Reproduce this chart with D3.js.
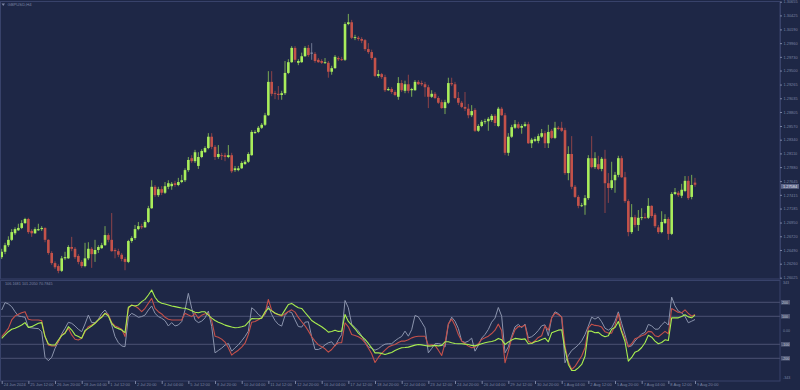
<!DOCTYPE html>
<html><head><meta charset="utf-8">
<script src="https://cdn.jsdelivr.net/npm/d3@7"></script>
<style>html,body{margin:0;padding:0;background:#1e2746;overflow:hidden}svg{display:block}</style>
</head><body><svg id="c" width="800" height="390"></svg>
<script>
const symbolTitle = "GBPUSD,H4";
const oscLegend = "106.1681 101.2050 70.7845";

const opens = [
1.2637,1.2646,1.2657,1.2666,1.2677,1.2682,1.2686,1.2694,1.2701,1.2681,
1.2677,1.2682,1.2684,1.2686,1.2666,1.2644,1.2627,1.2622,1.2614,1.2635,
1.2635,1.2654,1.2651,1.2639,1.2629,1.2622,1.2635,1.2651,1.2642,1.2649,
1.2652,1.2657,1.2674,1.2666,1.2649,1.2647,1.2641,1.2634,1.2629,1.2664,
1.2669,1.2684,1.2689,1.2687,1.2696,1.2719,1.2755,1.2741,1.2751,1.2745,
1.2755,1.2756,1.2761,1.2758,1.2763,1.2766,1.2783,1.2803,1.2798,1.2790,
1.2805,1.2813,1.2820,1.2839,1.2822,1.2805,1.2808,1.2808,1.2805,1.2808,
1.2783,1.2783,1.2786,1.2793,1.2797,1.2808,1.2845,1.2847,1.2854,1.2859,
1.2875,1.2931,1.2912,1.2911,1.2909,1.2912,1.2946,1.2964,1.2988,1.2963,
1.2964,1.2974,1.2988,1.2980,1.2978,1.2968,1.2966,1.2963,1.2963,1.2948,
1.2954,1.2971,1.2969,1.2968,1.3028,1.3031,1.3005,1.3005,1.3003,1.3001,
1.2986,1.2981,1.2971,1.2941,1.2944,1.2939,1.2917,1.2919,1.2914,1.2906,
1.2929,1.2916,1.2927,1.2917,1.2917,1.2931,1.2929,1.2927,1.2922,1.2906,
1.2911,1.2904,1.2897,1.2887,1.2896,1.2929,1.2927,1.2904,1.2896,1.2889,
1.2886,1.2875,1.2884,1.2849,1.2857,1.2864,1.2865,1.2867,1.2874,1.2857,
1.2886,1.2875,1.2812,1.2839,1.2854,1.2860,1.2854,1.2857,1.2860,1.2828,
1.2832,1.2832,1.2839,1.2845,1.2828,1.2849,1.2837,1.2854,1.2854,1.2850,
1.2778,1.2810,1.2755,1.2738,1.2723,1.2724,1.2736,1.2803,1.2788,1.2793,
1.2785,1.2802,1.2761,1.2753,1.2766,1.2775,1.2803,1.2771,1.2731,1.2679,
1.2704,1.2691,1.2703,1.2704,1.2703,1.2723,1.2708,1.2687,1.2679,1.2694,
1.2701,1.2676,1.2743,1.2745,1.2740,1.2748,1.2765,1.2738,1.2762];

const highs = [
1.2651,1.2661,1.2672,1.2684,1.2687,1.2693,1.2699,1.2703,1.2703,1.2684,
1.2687,1.2693,1.2689,1.2687,1.2667,1.2647,1.2630,1.2625,1.2639,1.2646,
1.2657,1.2671,1.2654,1.2642,1.2632,1.2661,1.2662,1.2654,1.2666,1.2657,
1.2661,1.2689,1.2677,1.2711,1.2652,1.2651,1.2644,1.2637,1.2666,1.2672,
1.2691,1.2696,1.2693,1.2699,1.2723,1.2766,1.2758,1.2755,1.2756,1.2763,
1.2766,1.2763,1.2765,1.2770,1.2775,1.2786,1.2805,1.2808,1.2817,1.2813,
1.2818,1.2823,1.2845,1.2845,1.2825,1.2825,1.2812,1.2812,1.2825,1.2812,
1.2790,1.2790,1.2798,1.2800,1.2813,1.2850,1.2850,1.2857,1.2862,1.2879,
1.2949,1.2949,1.2916,1.2924,1.2916,1.2966,1.2969,1.2991,1.2991,1.2969,
1.2980,1.2991,1.2993,1.2996,1.2981,1.2971,1.2969,1.2971,1.2966,1.2958,
1.2976,1.2974,1.2973,1.3031,1.3045,1.3035,1.3010,1.3008,1.3006,1.3003,
1.2996,1.2985,1.2973,1.2951,1.2946,1.2943,1.2922,1.2922,1.2917,1.2939,
1.2934,1.2933,1.2943,1.2921,1.2934,1.2934,1.2933,1.2931,1.2926,1.2917,
1.2914,1.2907,1.2901,1.2901,1.2938,1.2938,1.2931,1.2914,1.2899,1.2914,
1.2894,1.2892,1.2887,1.2860,1.2867,1.2869,1.2872,1.2877,1.2877,1.2889,
1.2889,1.2879,1.2845,1.2859,1.2867,1.2864,1.2860,1.2864,1.2864,1.2837,
1.2839,1.2844,1.2852,1.2849,1.2859,1.2852,1.2864,1.2857,1.2864,1.2854,
1.2823,1.2840,1.2758,1.2741,1.2728,1.2741,1.2808,1.2840,1.2813,1.2807,
1.2805,1.2817,1.2778,1.2797,1.2780,1.2807,1.2807,1.2780,1.2734,1.2726,
1.2708,1.2716,1.2719,1.2711,1.2736,1.2724,1.2711,1.2691,1.2714,1.2709,
1.2704,1.2746,1.2753,1.2748,1.2760,1.2773,1.2773,1.2775,1.2770];

const lows = [
1.2634,1.2642,1.2654,1.2664,1.2674,1.2681,1.2684,1.2693,1.2676,1.2671,
1.2676,1.2681,1.2681,1.2662,1.2641,1.2624,1.2617,1.2610,1.2612,1.2632,
1.2634,1.2647,1.2634,1.2625,1.2619,1.2620,1.2632,1.2619,1.2629,1.2644,
1.2651,1.2656,1.2662,1.2646,1.2635,1.2637,1.2630,1.2615,1.2627,1.2661,
1.2666,1.2682,1.2684,1.2686,1.2694,1.2718,1.2738,1.2738,1.2741,1.2743,
1.2751,1.2750,1.2755,1.2756,1.2761,1.2763,1.2780,1.2795,1.2795,1.2785,
1.2803,1.2812,1.2818,1.2818,1.2800,1.2802,1.2800,1.2798,1.2803,1.2778,
1.2780,1.2781,1.2785,1.2792,1.2795,1.2807,1.2844,1.2845,1.2852,1.2857,
1.2874,1.2907,1.2902,1.2901,1.2901,1.2909,1.2944,1.2963,1.2964,1.2959,
1.2963,1.2973,1.2973,1.2968,1.2963,1.2963,1.2961,1.2961,1.2938,1.2943,
1.2953,1.2966,1.2966,1.2966,1.3026,1.3003,1.3001,1.3000,1.2996,1.2983,
1.2978,1.2968,1.2939,1.2938,1.2936,1.2914,1.2916,1.2911,1.2907,1.2901,
1.2914,1.2912,1.2912,1.2906,1.2916,1.2926,1.2924,1.2906,1.2887,1.2904,
1.2902,1.2894,1.2886,1.2877,1.2894,1.2924,1.2902,1.2892,1.2887,1.2882,
1.2870,1.2872,1.2847,1.2847,1.2855,1.2860,1.2849,1.2864,1.2857,1.2855,
1.2874,1.2808,1.2807,1.2837,1.2852,1.2852,1.2844,1.2855,1.2827,1.2820,
1.2830,1.2828,1.2837,1.2820,1.2820,1.2835,1.2835,1.2850,1.2847,1.2775,
1.2766,1.2751,1.2736,1.2719,1.2721,1.2708,1.2733,1.2786,1.2785,1.2783,
1.2781,1.2711,1.2728,1.2750,1.2745,1.2771,1.2770,1.2728,1.2672,1.2676,
1.2687,1.2681,1.2699,1.2701,1.2701,1.2703,1.2686,1.2676,1.2677,1.2693,
1.2666,1.2674,1.2741,1.2738,1.2736,1.2746,1.2733,1.2734,1.2755];

const closes = [
1.2646,1.2657,1.2666,1.2679,1.2684,1.2686,1.2694,1.2701,1.2679,1.2677,
1.2684,1.2684,1.2686,1.2666,1.2644,1.2627,1.2620,1.2614,1.2635,1.2637,
1.2654,1.2651,1.2637,1.2629,1.2622,1.2635,1.2651,1.2642,1.2649,1.2654,
1.2657,1.2674,1.2666,1.2647,1.2647,1.2641,1.2634,1.2629,1.2664,1.2669,
1.2684,1.2689,1.2687,1.2696,1.2719,1.2755,1.2741,1.2751,1.2745,1.2756,
1.2761,1.2760,1.2758,1.2763,1.2766,1.2783,1.2800,1.2798,1.2813,1.2805,
1.2815,1.2820,1.2839,1.2822,1.2805,1.2810,1.2807,1.2805,1.2808,1.2781,
1.2786,1.2786,1.2795,1.2797,1.2810,1.2847,1.2847,1.2854,1.2859,1.2875,
1.2931,1.2911,1.2911,1.2909,1.2912,1.2946,1.2964,1.2988,1.2968,1.2966,
1.2974,1.2988,1.2976,1.2980,1.2966,1.2964,1.2963,1.2964,1.2948,1.2954,
1.2973,1.2969,1.2968,1.3028,1.3031,1.3005,1.3006,1.3003,1.3000,1.2986,
1.2981,1.2971,1.2941,1.2944,1.2939,1.2917,1.2919,1.2914,1.2909,1.2929,
1.2917,1.2927,1.2916,1.2919,1.2931,1.2927,1.2927,1.2922,1.2906,1.2911,
1.2904,1.2896,1.2887,1.2897,1.2929,1.2927,1.2904,1.2896,1.2889,1.2886,
1.2875,1.2882,1.2849,1.2857,1.2864,1.2865,1.2869,1.2874,1.2862,1.2886,
1.2875,1.2812,1.2839,1.2855,1.2860,1.2854,1.2857,1.2860,1.2828,1.2834,
1.2835,1.2840,1.2845,1.2828,1.2847,1.2837,1.2854,1.2852,1.2849,1.2778,
1.2810,1.2755,1.2738,1.2723,1.2724,1.2736,1.2803,1.2788,1.2803,1.2785,
1.2802,1.2761,1.2753,1.2766,1.2775,1.2803,1.2771,1.2731,1.2679,1.2704,
1.2691,1.2703,1.2704,1.2703,1.2723,1.2706,1.2689,1.2679,1.2696,1.2701,
1.2676,1.2743,1.2746,1.2741,1.2750,1.2765,1.2736,1.2758,1.27584];

const oscGray = [
145,198,188,169,133,102,98,93,21,17,
14,12,-10,-193,-217,-193,-129,-81,-26,14,
57,50,31,7,-10,45,109,55,55,79,
121,145,109,38,-45,-88,-112,-117,98,121,
109,93,98,109,145,174,121,98,86,69,
31,55,31,38,62,145,264,157,74,55,
65,89,137,27,-161,-144,-127,-106,-94,-149,
-125,-104,-75,-44,-6,161,142,113,96,113,
173,113,70,42,30,106,134,127,75,27,
23,58,61,-46,-137,-137,-125,-104,-89,-82,
-113,-68,-30,213,161,44,20,-4,-39,-84,
-118,-128,-142,-132,-113,-99,-96,-96,-75,-58,
-44,-6,-42,4,106,96,58,18,-161,-130,
-96,-94,-101,-120,42,94,65,13,-77,-87,
-77,-56,-149,-108,-56,-30,6,58,87,163,
101,-161,-118,-42,25,42,18,44,-54,-46,
-27,-1,32,39,-39,89,132,120,94,-232,
-180,-144,-125,-104,-75,-30,30,94,80,94,
61,15,1,18,65,132,49,-30,-118,-111,
-77,-49,-27,-15,42,32,8,8,39,61,
37,237,175,137,125,99,54,65,77];

const oscRed = [
-45,-17,14,74,102,114,126,133,79,74,
74,74,69,-45,-105,-112,-112,-81,-33,-17,
14,-33,-64,-69,-57,-10,26,38,50,74,
98,121,114,55,31,21,7,-45,157,181,
174,157,133,157,193,228,157,133,117,93,
79,74,74,74,74,121,109,98,121,86,
108,118,118,70,-42,-49,-63,-84,-125,-177,
-158,-142,-120,-92,-30,58,63,75,89,120,
220,142,120,111,101,118,134,146,130,92,
61,32,-4,-46,-77,-104,-118,-132,-156,-137,
-108,-89,-89,54,25,-30,-37,-46,-61,-89,
-127,-168,-230,-194,-165,-142,-120,-108,-101,-87,
-77,-77,-68,-54,-46,-42,-42,-42,-108,-104,
-108,-142,-180,-94,46,80,35,-30,-77,-94,
-113,-125,-120,-96,-65,-54,-42,-23,1,44,
-1,-232,-149,-58,4,27,25,37,-77,-92,
-75,-51,-39,32,1,89,123,113,94,-113,
-225,-280,-258,-220,-184,-125,18,44,35,32,
23,-11,-20,-20,35,120,-1,-54,-118,-96,
-61,-51,-39,-30,-8,-11,-39,-46,-27,-8,
-25,156,142,127,125,146,120,101,113];

const oscGreen = [
-57,-33,-10,7,14,26,38,55,21,26,
38,50,55,-45,-98,-105,-105,-69,-38,-21,
26,2,-33,-45,-57,-2,14,31,50,74,
93,121,102,50,21,12,2,-17,164,179,
174,181,205,221,252,288,236,205,193,188,
181,174,169,164,159,157,150,140,129,125,
132,132,108,87,70,58,49,37,30,23,
18,20,25,32,58,84,82,82,87,132,
156,139,123,113,108,146,184,192,175,161,
156,127,99,70,54,39,25,8,-13,-8,
1,-8,-6,113,63,37,11,-20,-44,-65,
-94,-125,-161,-161,-165,-173,-165,-158,-144,-134,
-125,-123,-120,-113,-106,-101,-104,-108,-113,-111,
-108,-111,-108,-82,-82,-89,-94,-96,-96,-99,
-101,-108,-111,-104,-96,-89,-84,-80,-73,-58,
-68,-101,-84,-70,-58,-61,-65,-61,-96,-94,
-82,-77,-65,-56,-82,-18,-8,1,4,-137,
-244,-287,-287,-268,-244,-185,-6,-6,-18,-15,
-35,-46,-39,8,20,63,-13,-80,-220,-194,
-156,-146,-123,-89,-35,-49,-77,-96,-87,-68,
-73,89,89,89,99,111,96,89,108];

const priceTicks = [1.30655,1.30425,1.30190,1.29960,1.29730,1.29500,1.29265,1.29035,1.28805,1.28570,
  1.28340,1.28110,1.27880,1.27645,1.27415,1.27185,1.26950,1.26720,1.26490,1.26260,1.26025];
const lastPrice = 1.27584;
const oscLevels = [200, 100, -100, -200];
const oscLevelLabels = ["200", "100", "-100", "-200"];
const oscEdgeLabels = ["343", "0.00", "-343"];
const oscEdgeValues = [338, 0, -341];
const timeTickBars = [0,8,16,24,32,40,48,56,64,72,80,88,96,104,112,120,128,136,144,152,160,168,176,184,192,200,208];
const timeTickLabels = ["24 Jun 2024","25 Jun 12:00","26 Jun 20:00","28 Jun 04:00","1 Jul 12:00","2 Jul 20:00",
  "4 Jul 04:00","5 Jul 12:00","8 Jul 20:00","10 Jul 04:00","11 Jul 12:00","12 Jul 20:00","16 Jul 04:00",
  "17 Jul 12:00","18 Jul 20:00","22 Jul 04:00","23 Jul 12:00","24 Jul 20:00","26 Jul 04:00","29 Jul 12:00",
  "30 Jul 20:00","1 Aug 04:00","2 Aug 12:00","5 Aug 20:00","7 Aug 04:00","8 Aug 12:00","9 Aug 20:00"];

// ---- drawing ----
const BG = "#1e2746", FRAME = "#38426a", TXT = "#7b84a2";
const BULL = "#a9ee5b", BEAR = "#c4524a", DOJI = "#9aa2b8";
const FONT = "'Liberation Sans', Arial, sans-serif";
const svg = d3.select("#c");
svg.append("rect").attr("width", 800).attr("height", 390).attr("fill", BG);

const plotRight = 780;
const x = d3.scaleLinear().domain([0, 208]).range([1.7, 695]);
const y = d3.scaleLinear().domain([1.26025, 1.30655]).range([277.7, 1.7]);
const yo = d3.scaleLinear().domain([-200, 200]).range([358.3, 302.3]);

// panel frames
svg.append("rect").attr("x", 0.5).attr("y", 1.5).attr("width", plotRight - 0.5).attr("height", 277.5)
  .attr("fill", "none").attr("stroke", FRAME);
svg.append("rect").attr("x", 0.5).attr("y", 280.5).attr("width", plotRight - 0.5).attr("height", 100.5)
  .attr("fill", "none").attr("stroke", FRAME);

svg.append("defs").html('<clipPath id="cm"><rect x="1" y="2" width="779" height="277"/></clipPath>' +
  '<clipPath id="co"><rect x="1" y="281" width="779" height="100"/></clipPath>');

// candles
const idx = d3.range(closes.length);
const gC = svg.append("g").attr("clip-path", "url(#cm)");
const colorOf = i => closes[i] > opens[i] ? BULL : (closes[i] < opens[i] ? BEAR : DOJI);
gC.selectAll("line.w").data(idx).join("line").attr("class", "w")
  .attr("x1", i => x(i)).attr("x2", i => x(i))
  .attr("y1", i => y(highs[i])).attr("y2", i => y(lows[i]))
  .attr("stroke", colorOf).attr("stroke-width", 1).attr("stroke-opacity", 0.65);
gC.selectAll("rect.b").data(idx).join("rect").attr("class", "b")
  .attr("x", i => x(i) - 1.3).attr("width", 2.6)
  .attr("y", i => y(Math.max(opens[i], closes[i])))
  .attr("height", i => Math.max(0.9, Math.abs(y(opens[i]) - y(closes[i]))))
  .attr("fill", colorOf);

// price axis
const ay = svg.append("g").attr("transform", `translate(${plotRight},0)`)
  .call(d3.axisRight(y).tickValues(priceTicks).tickSize(2).tickSizeOuter(0).tickFormat(d => d.toFixed(5)));
ay.select(".domain").attr("stroke", FRAME);
ay.selectAll(".tick line").attr("stroke", TXT);
ay.selectAll(".tick text").attr("x", 3.5).attr("fill", TXT).style("font", `3.9px ${FONT}`);

// last price box
const lpY = y(lastPrice) + 1.6;
svg.append("rect").attr("x", 781).attr("y", lpY - 2.4).attr("width", 18).attr("height", 4.8).attr("fill", "#5d6688");
svg.append("text").attr("x", 783).attr("y", lpY).attr("dy", "0.35em").attr("fill", "#e4e8f2")
  .style("font", `3.9px ${FONT}`).text(lastPrice.toFixed(5));

// oscillator levels
svg.selectAll("line.lv").data(oscLevels).join("line").attr("class", "lv")
  .attr("x1", 1).attr("x2", plotRight).attr("y1", d => yo(d)).attr("y2", d => yo(d))
  .attr("stroke", "#4a5272").attr("stroke-width", 1);
const gL = svg.append("g");
oscLevels.forEach((v, k) => {
  gL.append("rect").attr("x", 781).attr("y", yo(v) - 2.3).attr("width", 9).attr("height", 4.6).attr("fill", "#4f5775");
  gL.append("text").attr("x", 782).attr("y", yo(v)).attr("dy", "0.35em").attr("fill", "#c3c8d8")
    .style("font", `3.6px ${FONT}`).text(oscLevelLabels[k]);
});
oscEdgeValues.forEach((v, k) => {
  gL.append("text").attr("x", 783).attr("y", yo(v)).attr("dy", "0.35em").attr("fill", TXT)
    .style("font", `3.6px ${FONT}`).text(oscEdgeLabels[k]);
});

// oscillator lines
const gO = svg.append("g").attr("clip-path", "url(#co)");
const line = d3.line().x((d, i) => x(i)).y(d => yo(d));
[[oscGray, "#8b94ad", 1], [oscRed, "#c4504a", 1.1], [oscGreen, "#a9ee4f", 1.1]].forEach(([s, c, w]) => {
  gO.append("path").datum(s).attr("d", line).attr("fill", "none").attr("stroke", c).attr("stroke-width", w)
    .attr("stroke-linejoin", "round");
});

// time axis
const ax = svg.append("g").attr("transform", "translate(0,381)")
  .call(d3.axisBottom(x).tickValues(timeTickBars).tickSize(3).tickSizeOuter(0)
    .tickFormat((d, k) => timeTickLabels[k]));
ax.select(".domain").remove();
ax.selectAll(".tick line").attr("stroke", TXT);
ax.selectAll(".tick text").attr("text-anchor", "start").attr("x", 1.5).attr("y", 2).attr("fill", TXT)
  .style("font", `4px ${FONT}`);

// titles
svg.append("path").attr("d", "M1.5,3.5 L5,3.5 L3.25,6 Z").attr("fill", TXT);
svg.append("text").attr("x", 7.5).attr("y", 4.8).attr("dy", "0.35em").attr("fill", TXT)
  .style("font", `4.2px ${FONT}`).text(symbolTitle);
svg.append("text").attr("x", 5).attr("y", 283.5).attr("dy", "0.35em").attr("fill", TXT)
  .style("font", `3.8px ${FONT}`).text(oscLegend);
</script></body></html>
